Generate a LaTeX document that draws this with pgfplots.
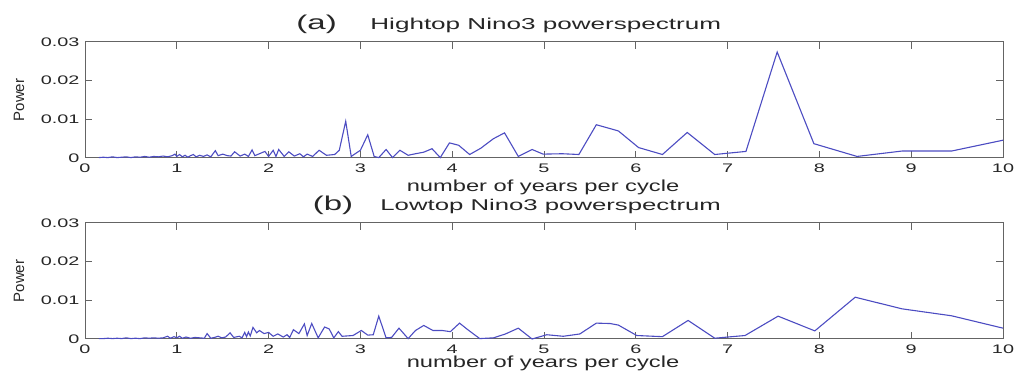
\documentclass[border=0pt]{standalone}
\usepackage{pgfplots}
\usepackage{pgfplotstable}
\pgfplotsset{compat=1.18}
\usepackage{fontspec}
\setmainfont{Liberation Sans}
\newfontfamily\tickfont{Liberation Sans}[FakeStretch=1.6]
\newfontfamily\labelfont{Liberation Sans}[FakeStretch=1.48]
\newfontfamily\titlefont{Liberation Sans}[FakeStretch=1.65]

\definecolor{specblue}{RGB}{76,76,194}
\definecolor{axgray}{RGB}{100,100,100}

% Hightop Nino3 power spectrum: period (years) vs power
\pgfplotstableread{
x y
0.15 0.0001
0.20 0.0002
0.25 0.0001
0.30 0.0003
0.35 0.0001
0.40 0.0002
0.45 0.0003
0.50 0.0001
0.55 0.0003
0.60 0.0002
0.65 0.0004
0.70 0.0002
0.75 0.0004
0.80 0.0003
0.85 0.0005
0.90 0.0003
0.95 0.0006
0.98 0.0010
1.00 0.0004
1.03 0.0009
1.06 0.0003
1.09 0.0007
1.12 0.0002
1.15 0.0006
1.18 0.0009
1.21 0.0003
1.25 0.0007
1.29 0.0004
1.33 0.0008
1.37 0.0003
1.42 0.0019
1.45 0.0006
1.50 0.0010
1.55 0.0006
1.59 0.0005
1.63 0.0016
1.69 0.0005
1.74 0.0010
1.78 0.0004
1.82 0.0021
1.85 0.0006
1.90 0.0011
1.96 0.0017
2.00 0.0004
2.05 0.0020
2.08 0.0004
2.11 0.0022
2.17 0.0004
2.22 0.0016
2.28 0.0005
2.34 0.0011
2.38 0.0003
2.42 0.0010
2.48 0.0004
2.55 0.0020
2.63 0.0007
2.72 0.0009
2.77 0.0020
2.84 0.0095
2.90 0.0004
3.00 0.0020
3.08 0.0060
3.15 0.0004
3.20 0.0001
3.28 0.0022
3.35 0.0001
3.43 0.0020
3.52 0.0007
3.60 0.0011
3.69 0.0015
3.78 0.0024
3.87 0.0001
3.97 0.0039
4.07 0.0033
4.19 0.0009
4.31 0.0025
4.45 0.0050
4.57 0.0065
4.72 0.0004
4.87 0.0022
4.99 0.0010
5.20 0.0011
5.38 0.0009
5.57 0.0086
5.81 0.0070
6.03 0.0027
6.29 0.0009
6.56 0.0066
6.86 0.0009
7.03 0.0013
7.20 0.0017
7.54 0.0274
7.94 0.0037
8.41 0.0004
8.90 0.0018
9.44 0.0018
10.00 0.0046
}\hightop

% Lowtop Nino3 power spectrum: period (years) vs power
\pgfplotstableread{
x y
0.15 0.0001
0.20 0.0001
0.25 0.0002
0.30 0.0001
0.35 0.0002
0.40 0.0001
0.45 0.0003
0.50 0.0001
0.55 0.0002
0.60 0.0001
0.65 0.0003
0.70 0.0002
0.75 0.0003
0.80 0.0002
0.85 0.0003
0.90 0.0007
0.93 0.0002
0.97 0.0006
1.00 0.0003
1.03 0.0007
1.06 0.0002
1.10 0.0005
1.15 0.0002
1.20 0.0004
1.25 0.0003
1.30 0.0002
1.33 0.0014
1.37 0.0002
1.41 0.0004
1.45 0.0007
1.49 0.0003
1.53 0.0005
1.56 0.0011
1.58 0.0016
1.62 0.0004
1.68 0.0007
1.71 0.0003
1.74 0.0017
1.76 0.0006
1.78 0.0018
1.80 0.0008
1.83 0.0030
1.87 0.0016
1.90 0.0022
1.95 0.0014
2.00 0.0017
2.05 0.0007
2.10 0.0013
2.16 0.0005
2.20 0.0011
2.23 0.0004
2.27 0.0024
2.33 0.0014
2.39 0.0039
2.42 0.0009
2.47 0.0040
2.54 0.0003
2.61 0.0031
2.66 0.0026
2.71 0.0003
2.76 0.0019
2.80 0.0007
2.92 0.0009
3.01 0.0022
3.08 0.0010
3.14 0.0011
3.20 0.0059
3.28 0.0003
3.34 0.0004
3.42 0.0028
3.52 0.0001
3.60 0.0022
3.69 0.0035
3.79 0.0022
3.89 0.0022
3.98 0.0019
4.08 0.0041
4.17 0.0024
4.30 0.0001
4.45 0.0003
4.58 0.0013
4.72 0.0028
4.87 0.0000
5.03 0.0011
5.21 0.0007
5.39 0.0013
5.57 0.0041
5.72 0.0040
5.81 0.0036
6.01 0.0009
6.29 0.0006
6.57 0.0048
6.86 0.0002
7.00 0.0005
7.19 0.0009
7.55 0.0059
7.95 0.0021
8.39 0.0108
8.90 0.0078
9.44 0.0060
10.00 0.0028
}\lowtop

\pgfplotsset{
  spectrum/.style={
    scale only axis,
    width=459pt, height=58pt,
    anchor=south west,
    xmin=0, xmax=10, ymin=0, ymax=0.03,
    xtick={0,1,...,10},
    ytick={0,0.01,0.02,0.03},
    yticklabels={0,0.01,0.02,0.03},
    scaled ticks=false,
    tick align=inside,
    major tick length=3.5pt,
    axis line style={axgray, line width=0.5pt},
    every tick/.style={axgray, line width=0.5pt},
    /pgf/number format/assume math mode=true,
    tick label style={font=\tickfont\fontsize{6.2}{7}\selectfont, text=black!85, inner sep=0.5pt},
    xticklabel style={yshift=-2.1pt},
    yticklabel style={xshift=-2.1pt},
    clip=false,
  },
  specline/.style={specblue, line width=0.55pt},
}

\begin{document}
\begin{tikzpicture}[lbl/.style={inner sep=0pt, text=black!85}]
\useasboundingbox (0,0) rectangle (509.5pt,189pt);

% (a) Hightop
\begin{axis}[spectrum, at={(42.5pt,110pt)}]
  \addplot[specline] table[x=x, y=y] {\hightop};
\end{axis}

% (b) Lowtop
\begin{axis}[spectrum, at={(42.5pt,19.5pt)}]
  \addplot[specline] table[x=x, y=y] {\lowtop};
\end{axis}

% panel titles
\node[lbl, anchor=base, font=\titlefont\fontsize{10}{12}\selectfont] at (158.3pt,174pt) {(a)};
\node[lbl, anchor=base west, font=\titlefont\fontsize{7.9}{9}\selectfont] at (185pt,174pt) {Hightop Nino3 powerspectrum};
\node[lbl, anchor=base, font=\titlefont\fontsize{10}{12}\selectfont] at (166.5pt,83.7pt) {(b)};
\node[lbl, anchor=base west, font=\titlefont\fontsize{7.8}{9}\selectfont] at (190pt,83.7pt) {Lowtop Nino3 powerspectrum};

% axis labels
\node[lbl, anchor=base, font=\labelfont\fontsize{8}{10}\selectfont] at (271.5pt,93.3pt) {number of years per cycle};
\node[lbl, anchor=base, font=\labelfont\fontsize{8}{10}\selectfont] at (271.5pt,5.3pt) {number of years per cycle};
\node[lbl, rotate=90, font=\fontsize{7.5}{8}\selectfont] at (9.5pt,139pt) {Power};
\node[lbl, rotate=90, font=\fontsize{7.5}{8}\selectfont] at (9.5pt,48.5pt) {Power};
\end{tikzpicture}
\end{document}
